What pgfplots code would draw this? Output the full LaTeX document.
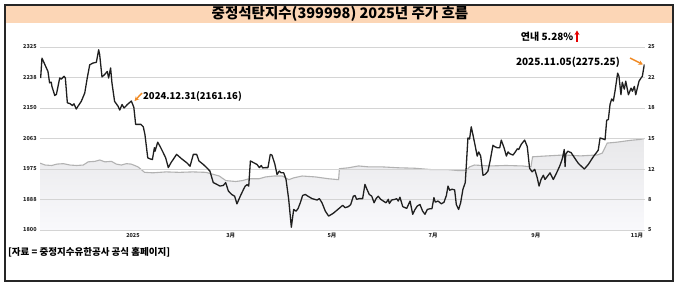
\documentclass[border=0pt]{standalone}
\usepackage{fontspec}
\setmainfont{Noto Sans CJK KR}
\usepackage{pgfplots}
\pgfplotsset{compat=1.18}
\usetikzlibrary{arrows.meta}
\definecolor{peach}{RGB}{252,214,182}
\definecolor{orng}{RGB}{240,138,36}
\definecolor{gridc}{RGB}{212,212,212}
\definecolor{filltop}{RGB}{232,232,234}
\definecolor{fillbot}{RGB}{249,249,252}
\pgfplotstableread{
x y
-56 12.3
-53 12.1
-49 12.05
-46 12.2
-42 12.25
-38 12.1
-34 12.05
-30 12.1
-27 12.45
-23 12.5
-20 12.65
-17 12.45
-13 12.5
-10 12.2
-7 12.1
-4 12.25
-1 12.2
3 11.9
7 11.3
12 11.25
20 11.35
28 11.3
36 11.35
44 11.3
48 11.1
52 10.9
56 10.4
62 10.3
66 10.4
70 10.6
76 10.6
80 10.8
85 10.9
90 10.9
94 10.5
97 10.7
102 10.9
110 10.8
118 10.6
124 10.5
124.5 11.7
130 11.8
136 12.0
142 11.9
150 11.9
160 11.8
170 11.75
180 11.6
190 11.6
196 11.5
201 11.5
203 11.9
206 12.1
215 12.0
225 12.05
235 12.0
240 11.9
241 13.0
250 13.1
260 13.2
270 13.1
280 13.2
283 13.4
286 14.5
292 14.6
300 14.8
306 14.9
308.4 15.0
}\grayline
\begin{document}
\begin{tikzpicture}[x=1pt,y=1pt]
\useasboundingbox (0,0) rectangle (680,284);
\fill[white] (0,0) rectangle (680,284);
% title band
\fill[peach] (5,261) rectangle (673,278);
\node[font=\fontsize{14.5}{16}\selectfont\bfseries] at (340,270.5) {중정석탄지수(399998) 2025년 주가 흐름};
% right axis (gray area)
\begin{axis}[at={(40.15pt,54pt)}, anchor=south west, scale only axis,
  width=604.35pt, height=183pt, xmin=-56, xmax=308.5, ymin=5, ymax=25,
  axis line style={draw=none}, tick style={draw=none}, xtick=\empty,
  ytick={5,8.3333,11.6667,15,18.3333,21.6667,25},
  yticklabels={5,8,12,15,18,22,25}, yticklabel pos=right,
  yticklabel style={font=\fontsize{5.5}{6}\selectfont\bfseries, text=black!85}]
\addplot[draw=none, top color=filltop, bottom color=fillbot] table[x=x,y=y] {\grayline}
  -- (axis cs:308.4,5) -- (axis cs:-56,5) -- cycle;
\addplot[black!30, line width=1.1pt] table[x=x,y=y] {\grayline};
\end{axis}
% left axis (price)
\begin{axis}[at={(40.15pt,54pt)}, anchor=south west, scale only axis,
  width=604.35pt, height=183pt, xmin=-56, xmax=308.5, ymin=1800, ymax=2325,
  axis line style={draw=none}, tick style={draw=none},
  ymajorgrids, major grid style={gridc, line width=0.9pt},
  ytick={1800,1887.5,1975,2062.5,2150,2237.5,2325},
  yticklabels={1800,1888,1975,2063,2150,2238,2325},
  xtick={0,59,120,181,243,304},
  xticklabels={2025,3月,5月,7月,9月,11月},
  ticklabel style={font=\fontsize{5.5}{6}\selectfont\bfseries, text=black!85}]
\addplot[black!88, line width=1.3pt, line join=round] table {
-55.7 2236
-54.9 2293
-51.3 2255
-50.3 2222
-49.3 2224
-48.9 2212
-47.2 2186
-46.2 2189
-44.2 2236
-43.2 2233
-41.6 2241
-40.8 2236
-39.6 2165
-37.8 2162
-36.6 2157
-35.6 2162
-34.2 2147
-33.2 2155
-31.2 2169
-29.1 2193
-27.6 2236
-26.1 2274
-24.1 2279
-22.1 2281
-20.7 2317
-20.1 2303
-18.7 2239
-17.1 2246
-15.5 2255
-14.7 2236
-13.5 2265
-12.7 2222
-11.1 2169
-9.0 2155
-8.0 2144
-6.6 2160
-5.4 2150
-3.4 2160
-1 2170
0.5 2152
1.6 2103
4.8 2103
6.2 2096
7.2 2074
8.9 2007
10.3 2004
11.7 2002
12.9 2036
13.3 2026
14.9 2052
16.3 2040
18.3 2021
19.7 2007
21.3 1979
22.9 1993
26.3 2017
29.4 2004
32.4 1993
34.4 1983
36.4 2017
38.4 2017
39.8 1998
42.4 1988
44.4 1979
46.4 1969
48.4 1936
50.5 1931
52.5 1926
54.5 1928
55.9 1936
57.5 1912
59.5 1902
61.3 1897
62.7 1875
64.7 1897
66.8 1918
67.7 1926
68.8 1930
69.8 1926
70.8 1998
72.8 1993
74.8 1988
76.2 1979
77.4 1985
78.2 1978
79.8 1979
81.4 1979
82.8 2017
83.8 2015
85.5 1990
86.9 1959
88.2 1969
89.4 1964
90.9 1964
92.3 1945
93.9 1888
95.5 1808
96.9 1859
98.3 1854
99.5 1861
100.9 1878
102.3 1899
103.9 1902
105.5 1897
108 1890
111 1886
112.4 1890
114 1878
116 1854
118 1840
120.8 1848
122.8 1856
124.8 1864
126.5 1871
127.9 1864
129.9 1867
131.3 1873
132.9 1897
133.9 1899
134.9 1888
136.5 1890
138.5 1890
139.9 1931
140.9 1919
142.5 1902
144 1897
145.4 1878
146.6 1890
147.9 1897
149.4 1888
151 1883
152.6 1878
154 1888
154.6 1876
156 1886
158 1888
159 1890
160 1883
161 1894
162.7 1867
165.1 1862
167.1 1883
168.7 1845
170.1 1859
171.5 1869
173.1 1873
174.7 1854
176.1 1845
177.5 1859
179.1 1861
180.3 1861
181.5 1893
182.3 1880
184 1883
186 1875
187.6 1880
189 1899
190 1926
191 1914
192.4 1917
194 1915
195 1873
196.4 1859
197.6 1878
199 1917
200.4 1936
201 1983
202 2064
203 2061
204 2096
205 2074
206.4 2041
207.6 2012
208.5 2024
209.7 2012
211.1 1957
212.5 1960
214.1 1969
215.5 2001
217.1 2043
218.2 2039
219.7 2036
221.2 2036
222.1 2058
223.8 2036
225.2 2012
226.2 2024
227.2 2019
229.2 2015
230.6 2024
231.8 2033
232.6 2031
234.2 2046
236.2 2058
237.8 2039
239.2 1977
240.7 1967
242.3 1974
243.8 1950
244.9 1926
246.1 1945
247.5 1957
248.5 1945
250.1 1955
251.5 1964
253.5 1945
255.5 1964
257.5 1985
258.9 2004
260.1 2031
260.6 1982
261 2017
262.2 2026
264.2 2022
265.6 2012
268.6 1991
272.2 1975
274.6 1988
277.6 2010
280.6 2029
281.7 2064
283.7 2061
284.7 2059
285.7 2115
286.7 2117
287.7 2160
288.7 2176
289.7 2170
290.7 2198
292.3 2250
293.1 2241
294.3 2188
295.1 2224
296.3 2204
297.2 2227
298.8 2188
300.4 2207
301.2 2198
302.4 2212
303.2 2188
305.2 2227
306.4 2236
307.2 2241
308.4 2275
};
\end{axis}
% annotations
\draw[orng, line width=1.4pt, -{Stealth[length=4.5pt,width=4.5pt]}] (142,191) -- (134.5,183);
\node[anchor=west, font=\fontsize{9.5}{11}\selectfont\bfseries, inner sep=0] at (143,188) {2024.12.31(2161.16)};
\node[anchor=east, font=\fontsize{10}{12}\selectfont\bfseries, inner sep=0] at (573.5,247) {연내 5.28\%};
\draw[red!90!black, line width=1.3pt, -{Stealth[length=4.5pt,width=5pt]}] (577,242) -- (577,253.5);
\node[anchor=east, font=\fontsize{10}{12}\selectfont\bfseries, inner sep=0] at (620,222) {2025.11.05(2275.25)};
\draw[orng, line width=1.4pt, -{Stealth[length=4.5pt,width=4.5pt]}] (630,226) -- (643,219.5);
\node[anchor=west, font=\fontsize{9.5}{11}\selectfont\bfseries, inner sep=0] at (8,31.5) {[자료 = 중정지수유한공사 공식 홈페이지]};
% frame
\draw[black!85, line width=2pt] (5,3) rectangle (673,279);
\end{tikzpicture}
\end{document}
